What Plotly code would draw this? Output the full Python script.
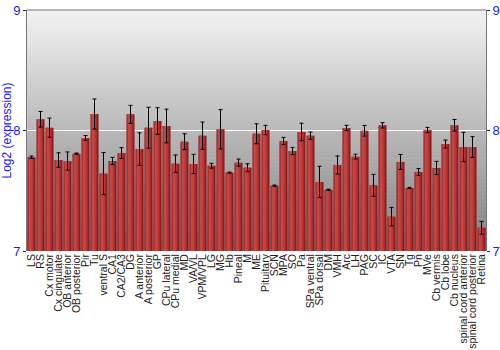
import plotly.graph_objects as go

regions = ["LS", "RS", "Cx motor", "Cx cingulate", "OB anterior", "OB posterior", "Pir", "Tu",
           "ventral S", "CA1", "CA2/CA3", "DG", "A anterior", "A posterior", "GP", "CPu lateral",
           "CPu medial", "MD", "VA/VL", "VPM/VPL", "LG", "MG", "Hb", "Pineal", "M", "ME",
           "Pituitary", "SCN", "MPA", "SO", "Pa", "SPa ventral", "SPa dorsal", "DM", "VMH", "Arc",
           "LH", "PAG", "SC", "IC", "VTA", "SN", "Tg", "Pn", "MVe", "Cb vermis", "Cb lobe",
           "Cb nucleus", "spinal cord anterior", "spinal cord posterior", "Retina"]

expression = [7.778, 8.093, 8.023, 7.755, 7.747, 7.808, 7.938, 8.137,
              7.642, 7.747, 7.813, 8.134, 7.846, 8.023, 8.079, 8.037,
              7.725, 7.907, 7.722, 7.957, 7.708, 8.010, 7.650, 7.733, 7.691, 7.973,
              8.004, 7.542, 7.913, 7.830, 7.988, 7.957, 7.573, 7.508, 7.714, 8.021,
              7.783, 7.998, 7.545, 8.043, 7.285, 7.739, 7.523, 7.656, 8.004, 7.689, 7.888,
              8.043, 7.863, 7.863, 7.193]

error = [0.01, 0.065, 0.08, 0.06, 0.075, 0.005, 0.02, 0.125,
         0.175, 0.03, 0.045, 0.075, 0.135, 0.17, 0.11, 0.14,
         0.072, 0.066, 0.08, 0.113, 0.02, 0.163, 0.005, 0.03, 0.033, 0.083,
         0.039, 0.005, 0.03, 0.03, 0.073, 0.03, 0.13, 0.005, 0.075, 0.022,
         0.02, 0.044, 0.091, 0.022, 0.077, 0.062, 0.005, 0.028, 0.022, 0.055, 0.033,
         0.048, 0.122, 0.086, 0.053]

y_min, y_max = 7, 9
y_ticks = [7, 8, 9]
y_title = "Log2 (expression)"

heights = [v - y_min for v in expression]

fig = go.Figure()

# bar body layers to mimic shading
fig.add_trace(go.Bar(x=regions, y=heights, base=y_min,
                     width=0.9, marker=dict(color="#8e1d1d", line=dict(width=0)),
                     hoverinfo="skip", showlegend=False))
fig.add_trace(go.Bar(x=regions, y=heights, base=y_min,
                     width=0.62, offset=-0.38, marker=dict(color="#b33434", line=dict(width=0)),
                     hoverinfo="skip", showlegend=False))
fig.add_trace(go.Bar(x=regions, y=heights, base=y_min,
                     width=0.3, offset=-0.28, marker=dict(color="#c54545", line=dict(width=0)),
                     hoverinfo="skip", showlegend=False))
# error bars, centred
fig.add_trace(go.Bar(x=regions, y=heights, base=y_min,
                     width=0.9, marker=dict(color="rgba(0,0,0,0)", line=dict(width=0)),
                     error_y=dict(type="data", array=error, color="black", thickness=1, width=2),
                     showlegend=False))
# invisible trace for right axis
fig.add_trace(go.Scatter(x=[regions[0]], y=[y_min], yaxis="y2", mode="markers",
                         marker=dict(opacity=0), hoverinfo="skip", showlegend=False))

# background gradient
n = 60
top = (242, 242, 242)
bot = (128, 128, 128)
shapes = []
for i in range(n):
    t = i / (n - 1)
    c = tuple(int(round(top[k] + (bot[k] - top[k]) * t)) for k in range(3))
    shapes.append(dict(type="rect", xref="paper", yref="paper", x0=0, x1=1,
                       y0=1 - (i + 1) / n, y1=1 - i / n + 0.001, layer="below",
                       fillcolor="rgb(%d,%d,%d)" % c, line=dict(width=0)))
shapes.append(dict(type="line", xref="paper", yref="paper", x0=0, x1=1, y0=1, y1=1,
                   line=dict(color="#777777", width=1)))

fig.update_layout(
    width=500, height=350,
    margin=dict(l=27, r=14, t=10, b=99, autoexpand=False),
    paper_bgcolor="white", plot_bgcolor="#c0c0c0",
    barmode="overlay",
    shapes=shapes,
    font=dict(family="Liberation Sans, Arial, sans-serif"),
    xaxis=dict(tickangle=-90, tickfont=dict(size=10.5, color="#222222"), showgrid=False,
               tickmode="array", tickvals=regions, ticktext=regions, automargin=False,
               ticks="", showline=False, zeroline=False, range=[-0.5, len(regions) - 0.5]),
    yaxis=dict(range=[y_min, y_max], tickvals=y_ticks, tickfont=dict(size=13, color="#1a1aff"),
               showgrid=True, gridcolor="white", gridwidth=1, zeroline=False, automargin=False,
               showline=True, linecolor="#777777", linewidth=1, ticks="outside",
               ticklen=3, tickcolor="#222222",
               title=dict(text=y_title, font=dict(size=12, color="#1a1aff"), standoff=0)),
    yaxis2=dict(range=[y_min, y_max], tickvals=y_ticks, overlaying="y", side="right",
                tickfont=dict(size=13, color="#1a1aff"), showgrid=False, zeroline=False,
                automargin=False,
                showline=True, linecolor="#777777", linewidth=1, ticks="outside",
                ticklen=3, tickcolor="#222222"),
)

fig.write_html("out.html")
